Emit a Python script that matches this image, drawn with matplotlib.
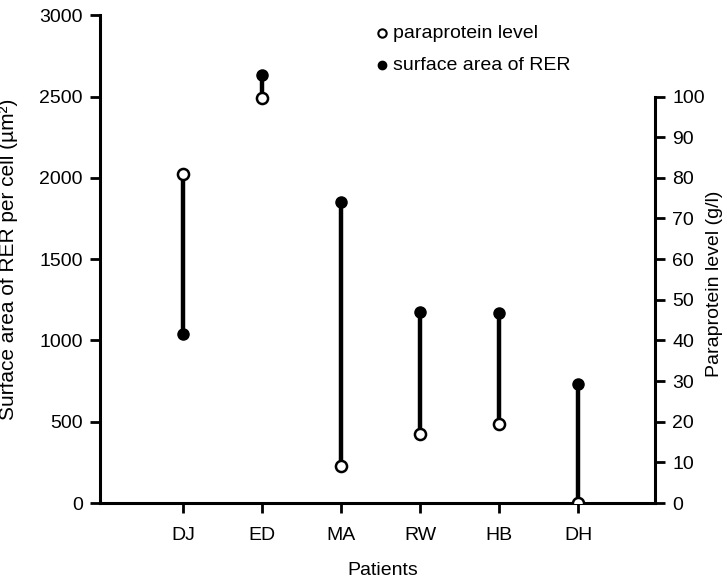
import matplotlib
matplotlib.use('Agg')
import matplotlib.pyplot as plt

patients = ['DJ', 'ED', 'MA', 'RW', 'HB', 'DH']
rer_area = [1040, 2630, 1850, 1175, 1170, 735]      # um^2 per cell (left axis)
paraprotein = [81, 99.6, 9, 17, 19.5, 0]            # g/l (right axis)

# 100 g/l sits level with 2500 um^2
SCALE = 25.0

plt.rcParams['font.family'] = ['Liberation Sans', 'DejaVu Sans']
plt.rcParams['font.size'] = 13

fig = plt.figure(figsize=(7.27, 5.86), dpi=100)
ax = fig.add_axes([0.1376, 0.1416, 0.9010 - 0.1376, 0.974 - 0.1416])
ax2 = ax.twinx()

x = list(range(1, len(patients) + 1))
para_left = [p * SCALE for p in paraprotein]

for xi, r, p in zip(x, rer_area, para_left):
    ax.plot([xi, xi], [r, p], color='black', lw=3.2, solid_capstyle='butt', zorder=2)
ax.plot(x, rer_area, 'o', ms=8, color='black', zorder=3)
ax.plot(x, para_left, 'o', ms=8, mfc='white', mec='black', mew=1.8, zorder=3)

ax.set_xlim(-0.05, 6.97)
ax.set_ylim(0, 3000)
ax.set_xticks(x)
ax.set_xticklabels(patients)
ax.set_yticks(range(0, 3001, 500))

ax2.set_ylim(0, 3000 / SCALE)
ax2.set_yticks(range(0, 101, 10))
ax2.spines['right'].set_bounds(0, 100)

for a in (ax, ax2):
    a.spines['top'].set_visible(False)
    for s in a.spines.values():
        s.set_linewidth(2.2)
    a.tick_params(width=2, length=7.5, direction='out', labelsize=14, pad=5)
ax.tick_params(axis='x', pad=10)
ax2.spines['left'].set_visible(False)
ax2.spines['bottom'].set_visible(False)
ax.spines['right'].set_visible(False)

ax.set_ylabel('Surface area of RER per cell (µm²)', fontsize=15)
ax.yaxis.set_label_coords(-0.148, 0.5)
ax.set_xlabel('Patients', fontsize=14)
ax.xaxis.set_label_coords(0.51, -0.121)
ax2.set_ylabel('Paraprotein level (g/l)', fontsize=14, rotation=90)
ax2.yaxis.set_label_coords(1.092, 0.45)

# legend drawn as marker + text like the original
ax.plot([3.52], [2889], 'o', ms=6, mfc='white', mec='black', mew=1.5, clip_on=False)
ax.text(3.65, 2889, 'paraprotein level', va='center', ha='left', fontsize=14)
ax.plot([3.52], [2693], 'o', ms=6, color='black', clip_on=False)
ax.text(3.65, 2693, 'surface area of RER', va='center', ha='left', fontsize=14)

fig.savefig('out.png', dpi=100)
